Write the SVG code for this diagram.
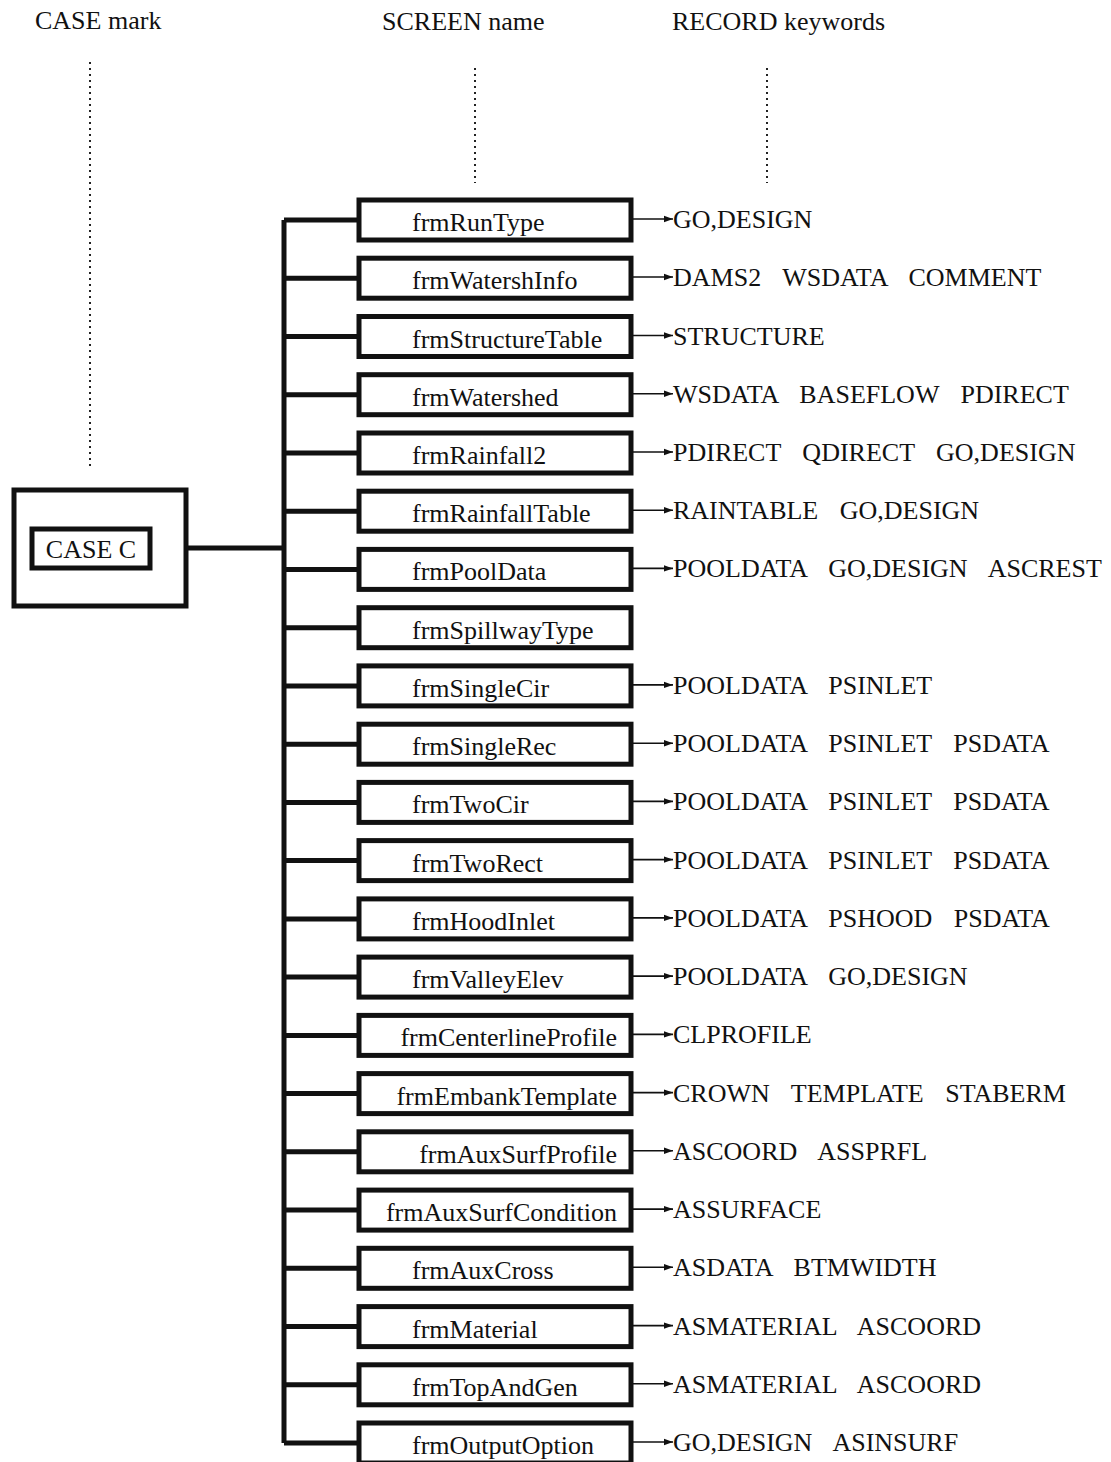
<svg xmlns="http://www.w3.org/2000/svg" width="1111" height="1462" viewBox="0 0 1111 1462">
<defs>
<style>
text{font-family:"Liberation Serif","Times New Roman",serif;font-size:26px;fill:#111;}
.box{fill:#fff;stroke:#111;stroke-width:5;}
.trunk{fill:none;stroke:#111;stroke-width:5;}
.arr{stroke:#111;stroke-width:1.6;fill:none;}
.dot{stroke:#222;stroke-width:2;stroke-dasharray:2 4;fill:none;}
.rec{word-spacing:15px;}
.nl{text-anchor:start;}
.nr{text-anchor:end;}
</style>
<marker id="ah" markerUnits="userSpaceOnUse" markerWidth="10" markerHeight="8" refX="9" refY="4" orient="auto">
<path d="M0,0.8 L9,4 L0,7.2 z" fill="#111"/>
</marker>
</defs>
<rect width="1111" height="1462" fill="#fff"/>
<g id="headers">
<text x="35" y="29">CASE mark</text>
<text x="382" y="30">SCREEN name</text>
<text x="672" y="30">RECORD keywords</text>
<line class="dot" x1="90" y1="62" x2="90" y2="470"/>
<line class="dot" x1="475" y1="68" x2="475" y2="183"/>
<line class="dot" x1="767" y1="68" x2="767" y2="183"/>
</g>
<g id="connectors">
<path class="trunk" d="M188,548 H284 M284,220 V1443 M284,220 H358 M284,278.2 H358 M284,336.5 H358 M284,394.7 H358 M284,453 H358 M284,511.2 H358 M284,569.4 H358 M284,627.7 H358 M284,685.9 H358 M284,744.2 H358 M284,802.4 H358 M284,860.6 H358 M284,918.9 H358 M284,977.1 H358 M284,1035.4 H358 M284,1093.6 H358 M284,1151.8 H358 M284,1210.1 H358 M284,1268.3 H358 M284,1326.6 H358 M284,1384.8 H358 M284,1443 H358"/>
<g marker-end="url(#ah)">
<line class="arr" x1="633" y1="219" x2="673" y2="219"/>
<line class="arr" x1="633" y1="277" x2="673" y2="277"/>
<line class="arr" x1="633" y1="335.5" x2="673" y2="335.5"/>
<line class="arr" x1="633" y1="393.7" x2="673" y2="393.7"/>
<line class="arr" x1="633" y1="452" x2="673" y2="452"/>
<line class="arr" x1="633" y1="510.2" x2="673" y2="510.2"/>
<line class="arr" x1="633" y1="568.4" x2="673" y2="568.4"/>
<line class="arr" x1="633" y1="684.9" x2="673" y2="684.9"/>
<line class="arr" x1="633" y1="743.2" x2="673" y2="743.2"/>
<line class="arr" x1="633" y1="801.4" x2="673" y2="801.4"/>
<line class="arr" x1="633" y1="859.6" x2="673" y2="859.6"/>
<line class="arr" x1="633" y1="917.9" x2="673" y2="917.9"/>
<line class="arr" x1="633" y1="976.1" x2="673" y2="976.1"/>
<line class="arr" x1="633" y1="1034.4" x2="673" y2="1034.4"/>
<line class="arr" x1="633" y1="1092.6" x2="673" y2="1092.6"/>
<line class="arr" x1="633" y1="1150.8" x2="673" y2="1150.8"/>
<line class="arr" x1="633" y1="1209.1" x2="673" y2="1209.1"/>
<line class="arr" x1="633" y1="1267.3" x2="673" y2="1267.3"/>
<line class="arr" x1="633" y1="1325.6" x2="673" y2="1325.6"/>
<line class="arr" x1="633" y1="1383.8" x2="673" y2="1383.8"/>
<line class="arr" x1="633" y1="1442" x2="673" y2="1442"/>
</g>
</g>
<g id="caseC">
<rect class="box" x="14" y="490" width="172" height="116"/>
<rect class="box" x="32" y="529" width="118" height="39"/>
<text x="91" y="558" text-anchor="middle">CASE C</text>
</g>
<g id="n0"><rect class="box" x="359" y="200" width="272" height="40"/><text class="nl" x="412" y="231">frmRunType</text></g>
<g id="n1"><rect class="box" x="359" y="258.2" width="272" height="40"/><text class="nl" x="412" y="289.2">frmWatershInfo</text></g>
<g id="n2"><rect class="box" x="359" y="316.5" width="272" height="40"/><text class="nl" x="412" y="347.5">frmStructureTable</text></g>
<g id="n3"><rect class="box" x="359" y="374.7" width="272" height="40"/><text class="nl" x="412" y="405.7">frmWatershed</text></g>
<g id="n4"><rect class="box" x="359" y="433" width="272" height="40"/><text class="nl" x="412" y="464">frmRainfall2</text></g>
<g id="n5"><rect class="box" x="359" y="491.2" width="272" height="40"/><text class="nl" x="412" y="522.2">frmRainfallTable</text></g>
<g id="n6"><rect class="box" x="359" y="549.4" width="272" height="40"/><text class="nl" x="412" y="580.4">frmPoolData</text></g>
<g id="n7"><rect class="box" x="359" y="607.7" width="272" height="40"/><text class="nl" x="412" y="638.7">frmSpillwayType</text></g>
<g id="n8"><rect class="box" x="359" y="665.9" width="272" height="40"/><text class="nl" x="412" y="696.9">frmSingleCir</text></g>
<g id="n9"><rect class="box" x="359" y="724.2" width="272" height="40"/><text class="nl" x="412" y="755.2">frmSingleRec</text></g>
<g id="n10"><rect class="box" x="359" y="782.4" width="272" height="40"/><text class="nl" x="412" y="813.4">frmTwoCir</text></g>
<g id="n11"><rect class="box" x="359" y="840.6" width="272" height="40"/><text class="nl" x="412" y="871.6">frmTwoRect</text></g>
<g id="n12"><rect class="box" x="359" y="898.9" width="272" height="40"/><text class="nl" x="412" y="929.9">frmHoodInlet</text></g>
<g id="n13"><rect class="box" x="359" y="957.1" width="272" height="40"/><text class="nl" x="412" y="988.1">frmValleyElev</text></g>
<g id="n14"><rect class="box" x="359" y="1015.4" width="272" height="40"/><text class="nr" x="617" y="1046.4">frmCenterlineProfile</text></g>
<g id="n15"><rect class="box" x="359" y="1073.6" width="272" height="40"/><text class="nr" x="617" y="1104.6">frmEmbankTemplate</text></g>
<g id="n16"><rect class="box" x="359" y="1131.8" width="272" height="40"/><text class="nr" x="617" y="1162.8">frmAuxSurfProfile</text></g>
<g id="n17"><rect class="box" x="359" y="1190.1" width="272" height="40"/><text class="nr" x="617" y="1221.1">frmAuxSurfCondition</text></g>
<g id="n18"><rect class="box" x="359" y="1248.3" width="272" height="40"/><text class="nl" x="412" y="1279.3">frmAuxCross</text></g>
<g id="n19"><rect class="box" x="359" y="1306.6" width="272" height="40"/><text class="nl" x="412" y="1337.6">frmMaterial</text></g>
<g id="n20"><rect class="box" x="359" y="1364.8" width="272" height="40"/><text class="nl" x="412" y="1395.8">frmTopAndGen</text></g>
<g id="n21"><rect class="box" x="359" y="1423" width="272" height="40"/><text class="nl" x="412" y="1454">frmOutputOption</text></g>
<g id="records">
<text class="rec" x="673" y="228">GO,DESIGN</text>
<text class="rec" x="673" y="286.2">DAMS2 WSDATA COMMENT</text>
<text class="rec" x="673" y="344.5">STRUCTURE</text>
<text class="rec" x="673" y="402.7">WSDATA BASEFLOW PDIRECT</text>
<text class="rec" x="673" y="461">PDIRECT QDIRECT GO,DESIGN</text>
<text class="rec" x="673" y="519.2">RAINTABLE GO,DESIGN</text>
<text class="rec" x="673" y="577.4">POOLDATA GO,DESIGN ASCREST</text>
<text class="rec" x="673" y="693.9">POOLDATA PSINLET</text>
<text class="rec" x="673" y="752.2">POOLDATA PSINLET PSDATA</text>
<text class="rec" x="673" y="810.4">POOLDATA PSINLET PSDATA</text>
<text class="rec" x="673" y="868.6">POOLDATA PSINLET PSDATA</text>
<text class="rec" x="673" y="926.9">POOLDATA PSHOOD PSDATA</text>
<text class="rec" x="673" y="985.1">POOLDATA GO,DESIGN</text>
<text class="rec" x="673" y="1043.4">CLPROFILE</text>
<text class="rec" x="673" y="1101.6">CROWN TEMPLATE STABERM</text>
<text class="rec" x="673" y="1159.8">ASCOORD ASSPRFL</text>
<text class="rec" x="673" y="1218.1">ASSURFACE</text>
<text class="rec" x="673" y="1276.3">ASDATA BTMWIDTH</text>
<text class="rec" x="673" y="1334.6">ASMATERIAL ASCOORD</text>
<text class="rec" x="673" y="1392.8">ASMATERIAL ASCOORD</text>
<text class="rec" x="673" y="1451">GO,DESIGN ASINSURF</text>
</g>
</svg>
